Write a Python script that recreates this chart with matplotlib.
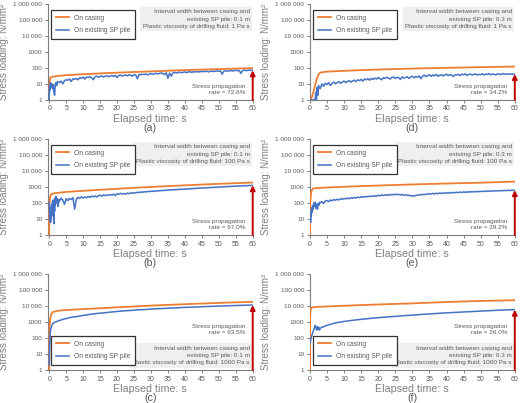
import numpy as np
import matplotlib
matplotlib.use('Agg')
import matplotlib.pyplot as plt
from matplotlib import font_manager
from matplotlib.ticker import FixedLocator, NullLocator

# narrow face if there is one, otherwise shrink the small texts a bit
names = {f.name for f in font_manager.fontManager.ttflist}
if 'Liberation Sans Narrow' in names:
    plt.rcParams['font.family'] = ['Liberation Sans Narrow', 'Liberation Sans', 'DejaVu Sans']
    small = 5.4
else:
    plt.rcParams['font.family'] = ['Liberation Sans', 'DejaVu Sans']
    small = 4.6

# y axis ticks
ytick_vals = [1, 10, 100, 1000, 10000, 100000, 1000000]
ytick_labels = ['1', '10', '100', '1000', '10 000', '100 000', '1 000 000']
xtick_vals = [0, 5, 10, 15, 20, 25, 30, 35, 40, 45, 50, 55, 60]

# ---- panel (a): 0.1 m, 1 Pa s
a_or_t = [0, 0.3, 1, 3, 5, 10, 15, 20, 25, 30, 35, 40, 45, 50, 55, 60]
a_or_v = [5, 25, 28, 32, 35, 40, 45, 50, 55, 60, 66, 72, 78, 84, 90, 96]
a_bl_t = [0, 0.1, 0.2, 0.4, 0.6, 0.8, 1.0, 1.2, 1.4, 1.6, 1.8, 2.0, 2.2, 2.5] + list(np.arange(3, 60.5, 0.5))
a_bl_v = [1, 8, 4, 12, 6, 10, 5, 9, 3, 2, 10, 12, 8, 14,
          12, 15, 10, 16, 18, 17, 20, 14, 21, 19,
          22, 18, 24, 23, 26, 20, 27, 25, 28, 24,
          18, 28, 30, 26, 29, 31, 27, 30, 32, 28,
          31, 33, 29, 34, 25, 33, 35, 31, 34, 36,
          32, 37, 35, 30, 38, 36, 21, 39, 37, 40,
          38, 42, 36, 41, 44, 40, 43, 46, 42, 45,
          48, 44, 38, 50, 22, 47, 30, 49, 52, 48,
          51, 54, 49, 53, 56, 50, 55, 58, 52, 57,
          55, 59, 54, 60, 57, 61, 58, 62, 56, 60,
          63, 59, 62, 65, 61, 64, 40, 63, 66, 62,
          65, 68, 64, 67, 70, 66, 69, 45, 68, 71,
          67, 70, 72, 69, 70]

# ---- panel (d): 0.3 m, 1 Pa s
d_or_t = [0.3, 1, 1.5, 2, 2.5, 3, 4, 5, 10, 15, 20, 25, 30, 35, 40, 45, 50, 55, 60]
d_or_v = [1, 3, 8, 20, 38, 50, 55, 58, 65, 72, 78, 84, 90, 95, 100, 105, 110, 115, 120]
d_bl_t = [0, 0.5, 1.0, 1.5, 1.7, 1.9, 2.1, 2.3, 2.5] + list(np.arange(3, 60.5, 0.5))
d_bl_v = [1, 1, 1, 1, 3, 1, 6, 2, 8,
          5, 10, 7, 11, 9, 12, 8, 11, 13, 10,
          12, 14, 11, 13, 15, 12, 14, 16, 13, 15,
          17, 14, 18, 16, 19, 15, 20, 18, 21, 17,
          22, 19, 23, 20, 25, 21, 18, 24, 22, 26,
          23, 20, 25, 27, 22, 26, 24, 19, 27, 23,
          25, 28, 22, 27, 30, 24, 29, 26, 31, 21,
          30, 35, 28, 33, 38, 29, 36, 32, 39, 30,
          34, 37, 31, 36, 40, 33, 38, 35, 29, 37,
          36, 39, 33, 40, 37, 42, 34, 39, 41, 36,
          38, 42, 35, 40, 37, 43, 36, 41, 39, 44,
          37, 42, 39, 36, 43, 40, 38, 44, 41, 39,
          43, 40, 42, 39, 41]

# ---- panel (b): 0.1 m, 100 Pa s
b_or_t = [0, 0.05, 0.2, 0.5, 1, 3, 5, 10, 15, 20, 25, 30, 35, 40, 45, 50, 55, 60]
b_or_v = [1, 60, 200, 320, 380, 430, 480, 560, 650, 750, 860, 980, 1100, 1230, 1380, 1530, 1680, 1850]
b_bl_t = [0, 0.1, 0.2, 0.3, 0.4, 0.5, 0.6, 0.7, 0.8, 0.9, 1.0, 1.1, 1.2, 1.3, 1.4, 1.5,
          1.6, 1.7, 1.8, 1.9, 2.0, 2.2, 2.4, 2.6, 2.8] + list(np.arange(3, 60.5, 0.5))
b_bl_v = [100, 30, 8, 50, 6, 20, 10, 80, 15, 40, 120, 25, 150, 60, 5, 90, 30, 200, 70, 150,
          250, 100, 180, 60, 160,
          120, 200, 150, 80, 180, 140, 190, 160, 210, 40,
          170, 220, 190, 240, 200, 230, 210, 250, 220, 260,
          240, 270, 230, 280, 300, 260, 310, 280, 320, 290,
          330, 300, 350, 280, 370, 340, 390, 360, 380, 350,
          400, 370, 420, 390, 440, 410, 460, 430, 480, 450,
          500, 470, 520, 490, 540, 510, 560, 530, 580, 550,
          600, 570, 620, 590, 640, 610, 660, 630, 680, 650,
          700, 670, 720, 690, 740, 710, 760, 730, 790, 760,
          810, 780, 840, 800, 860, 830, 880, 850, 910, 880,
          930, 900, 960, 920, 990, 950, 1010, 980, 1040, 1000,
          1070, 1030, 1100, 1060, 1130, 1090, 1160, 1110, 1190, 1140,
          1200, 1150, 1230, 1180, 1240]

# ---- panel (e): 0.3 m, 100 Pa s
e_or_t = [0, 0.1, 0.3, 0.6, 1, 2, 5, 10, 15, 20, 25, 30, 35, 40, 45, 50, 55, 60]
e_or_v = [1, 100, 400, 650, 800, 830, 900, 1000, 1100, 1200, 1300, 1400, 1500, 1600, 1700, 1800, 1950, 2100]
e_bl_t = [0, 0.1, 0.2, 0.3, 0.4, 0.5, 0.6, 0.8, 1.0, 1.2, 1.4, 1.6, 1.8, 2.0, 2.2, 2.4,
          2.6, 2.8] + list(np.arange(3, 60.5, 0.5))
e_bl_v = [8, 20, 6, 30, 15, 50, 25, 70, 40, 100, 60, 110, 45, 80, 40, 90, 70, 110,
          100, 120, 90, 130, 140, 120, 150, 135, 160, 145,
          170, 150, 180, 165, 190, 175, 200, 180, 210, 190,
          220, 200, 230, 210, 240, 220, 250, 230, 260, 240,
          270, 250, 280, 260, 300, 275, 310, 285, 320, 290,
          330, 300, 340, 310, 350, 320, 340, 310, 330, 300,
          320, 290, 300, 270, 280, 260, 290, 300, 320, 310,
          340, 320, 360, 340, 380, 350, 390, 360, 400, 370,
          410, 380, 420, 390, 430, 400, 440, 410, 450, 420,
          460, 430, 470, 440, 480, 450, 490, 460, 500, 470,
          510, 480, 520, 490, 530, 500, 540, 510, 550, 520,
          560, 530, 570, 540, 580, 550, 590, 560, 600, 570,
          610, 580, 620, 590, 615]

# ---- panel (c): 0.1 m, 1000 Pa s
c_or_t = [0, 0.05, 0.15, 0.3, 0.6, 1, 2, 3, 5, 10, 15, 20, 25, 30, 35, 40, 45, 50, 55, 60]
c_or_v = [1, 100, 600, 1500, 3000, 4000, 4600, 5000, 5400, 6200, 7000, 8000, 9000, 10200,
          11300, 12500, 13700, 15000, 16300, 17500]
c_bl_t = [0, 0.1, 0.2, 0.3, 0.5, 0.8, 1, 1.5, 2, 3, 4, 5, 6, 7, 8,
          10, 12, 14, 16, 18, 20, 22, 24, 26, 28, 30, 32, 34, 36, 38, 40,
          42, 44, 46, 48, 50, 52, 54, 56, 58, 60]
c_bl_v = [2, 20, 80, 200, 400, 600, 750, 900, 1000, 1200, 1400, 1600, 1800, 2000, 2100,
          2500, 2900, 3300, 3600, 4000, 4400, 4800, 5100, 5500, 5800, 6200, 6500, 6800,
          7200, 7500, 7900, 8200, 8500, 8900, 9200, 9600, 9900, 10200, 10500, 10800, 11100]

# ---- panel (f): 0.3 m, 1000 Pa s
f_or_t = [0, 0.05, 0.15, 0.3, 0.5, 1, 2, 5, 10, 15, 20, 25, 30, 35, 40, 45, 50, 55, 60]
f_or_v = [1, 2000, 5000, 6500, 7500, 8000, 8500, 9000, 10000, 11000, 12000, 13000, 14000,
          15500, 17000, 18500, 20000, 21000, 22000]
f_bl_t = [0, 0.2, 0.4, 0.6, 0.8, 1.0, 1.2, 1.4, 1.6, 1.8, 2.0, 2.2, 2.4, 2.6, 2.8, 3.0,
          3.5, 4, 5, 6, 7, 8,
          10, 12, 14, 16, 18, 20, 22, 24, 26, 28, 30, 32, 34, 36, 38, 40,
          42, 44, 46, 48, 50, 52, 54, 56, 58, 60]
f_bl_v = [40, 70, 100, 150, 200, 280, 350, 500, 600, 400, 300, 500, 350, 450, 300, 400,
          450, 500, 600, 700, 800, 900,
          1050, 1200, 1350, 1500, 1650, 1800, 1950, 2100, 2250, 2450, 2600, 2800, 3000,
          3200, 3400, 3600, 3800, 4000, 4200, 4400, 4650, 4900, 5100, 5350, 5550, 5700]

panels = [
    ('(a)', a_or_t, a_or_v, a_bl_t, a_bl_v, '0.1', '1', '72.6%', 'top'),
    ('(b)', b_or_t, b_or_v, b_bl_t, b_bl_v, '0.1', '100', '67.0%', 'top'),
    ('(c)', c_or_t, c_or_v, c_bl_t, c_bl_v, '0.1', '1000', '63.5%', 'bottom'),
    ('(d)', d_or_t, d_or_v, d_bl_t, d_bl_v, '0.3', '1', '34.2%', 'top'),
    ('(e)', e_or_t, e_or_v, e_bl_t, e_bl_v, '0.3', '100', '29.2%', 'top'),
    ('(f)', f_or_t, f_or_v, f_bl_t, f_bl_v, '0.3', '1000', '26.0%', 'bottom'),
]

orange = '#ED7D31'
blue = '#4472C4'
gray = '#7f7f7f'
dark = '#595959'

fig = plt.figure(figsize=(5.2, 4.03), dpi=100)
lefts = [0.092, 0.596]
bottoms = [0.752, 0.417, 0.082]

for i, (tag, ot, ov, bt, bv, width, visc, rate, where) in enumerate(panels):
    col = i // 3
    row = i % 3
    ax = fig.add_axes([lefts[col], bottoms[row], 0.394, 0.239])
    ax.plot(ot, ov, color=orange, lw=1.3, label='On casing', zorder=3)
    ax.plot(bt, bv, color=blue, lw=1.1, label='On existing SP pile', zorder=3)
    ax.set_yscale('log')
    ax.set_ylim(1, 1000000)
    ax.set_xlim(-0.4 if col == 0 else 0, 60)
    ax.yaxis.set_major_locator(FixedLocator(ytick_vals))
    ax.set_yticklabels(ytick_labels)
    ax.yaxis.set_minor_locator(NullLocator())
    ax.set_xticks(xtick_vals)
    for s in ['top', 'right']:
        ax.spines[s].set_visible(False)
    for s in ['left', 'bottom']:
        ax.spines[s].set_color(gray)
        ax.spines[s].set_linewidth(0.8)
    ax.tick_params(axis='both', direction='out', length=2.5, width=0.7,
                   color=gray, labelcolor=dark, pad=1.5)
    ax.tick_params(axis='y', labelsize=small)
    ax.tick_params(axis='x', labelsize=small + 0.4)
    ax.set_ylabel('Stress loading: N/mm²', fontsize=7, color=gray)
    ax.yaxis.set_label_coords(-0.19, 0.5)
    ax.set_xlabel('Elapsed time: s', fontsize=7.7, color=gray, labelpad=1)
    ax.text(0.5, -0.29, tag, transform=ax.transAxes, ha='center', va='center',
            fontsize=7.7, color=dark)

    # red arrow up to the pile value at 60 s
    ax.annotate('', xy=(60, bv[-1]), xytext=(60, 1),
                arrowprops=dict(arrowstyle='-|>', color='#C00000', lw=1.4,
                                mutation_scale=7, shrinkA=0, shrinkB=0),
                annotation_clip=False, zorder=4)

    info = ('Interval width between casing and\nexisting SP pile: %s m\n'
            'Plastic viscosity of drilling fluid: %s Pa s' % (width, visc))
    leg_kw = dict(fontsize=small + 0.2, handlelength=2.0, handletextpad=0.7,
                  labelspacing=0.8, borderpad=0.7, fancybox=False,
                  edgecolor='#333333', framealpha=1, labelcolor=dark)
    if where == 'top':
        leg = ax.legend(loc='upper left', bbox_to_anchor=(0.0, 0.97), **leg_kw)
        ax.text(0.985, 0.94, info, transform=ax.transAxes, ha='right', va='top',
                fontsize=small, color=dark, linespacing=1.55,
                bbox=dict(boxstyle='square,pad=0.4', fc='#efefef', ec='none'))
        ax.text(0.965, 0.05, 'Stress propagation\nrate = ' + rate,
                transform=ax.transAxes, ha='right', va='bottom',
                fontsize=small, color=dark, linespacing=1.3)
    else:
        leg = ax.legend(loc='lower left', bbox_to_anchor=(0.0, 0.02), **leg_kw)
        ax.text(0.985, 0.05, info, transform=ax.transAxes, ha='right', va='bottom',
                fontsize=small, color=dark, linespacing=1.55,
                bbox=dict(boxstyle='square,pad=0.4', fc='#efefef', ec='none'))
        ax.text(0.965, 0.36, 'Stress propagation\nrate = ' + rate,
                transform=ax.transAxes, ha='right', va='bottom',
                fontsize=small, color=dark, linespacing=1.3)
    leg.get_frame().set_linewidth(0.9)
    leg.set_zorder(5)

fig.savefig('out.png', dpi=100)
